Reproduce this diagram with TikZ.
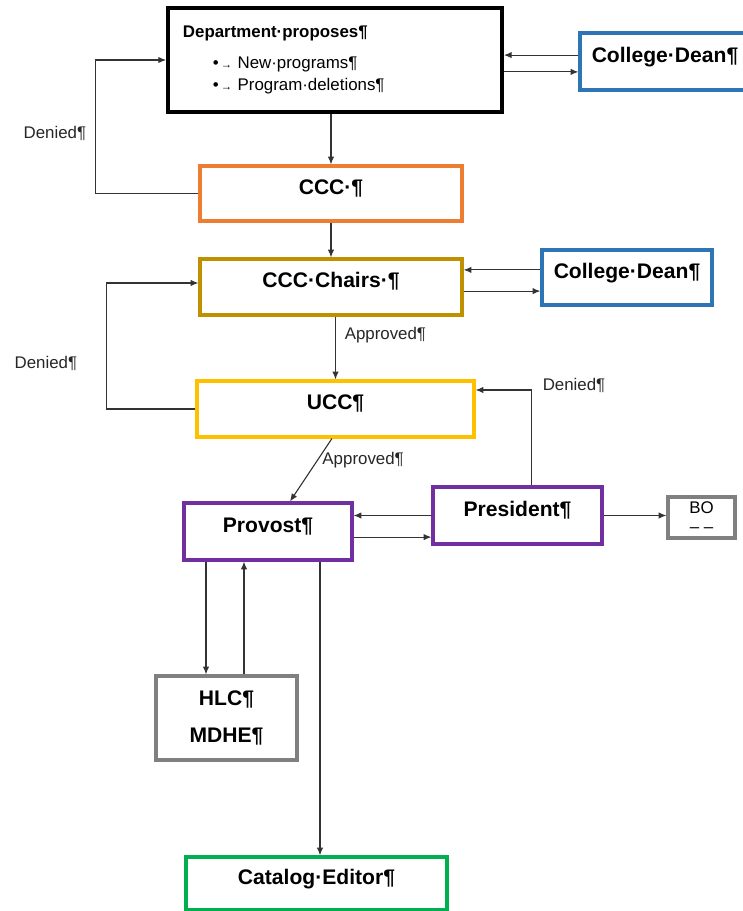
\documentclass[tikz,border=0pt]{standalone}
\usepackage{fontspec}
\setmainfont{Liberation Sans}
\usetikzlibrary{arrows.meta}

\definecolor{deanblue}{RGB}{46,117,182}
\definecolor{cccorange}{RGB}{237,125,49}
\definecolor{chairgold}{RGB}{191,144,0}
\definecolor{uccyellow}{RGB}{255,192,0}
\definecolor{officepurple}{RGB}{112,48,160}
\definecolor{boxgray}{RGB}{128,128,128}
\definecolor{editgreen}{RGB}{0,176,80}

\begin{document}
\begin{tikzpicture}[x=0.025cm, y=-0.025cm,
    box/.style={draw, line width=2.2pt, fill=white, font=\fontsize{15}{18}\selectfont\bfseries},
    tbox/.style={box, text height=11pt, text depth=10pt},
    arr/.style={-{Latex[length=5.5pt,width=4.5pt]}, line width=0.8pt, black!80},
    lbl/.style={font=\fontsize{12}{14}\selectfont, black!85}]
        \useasboundingbox (0,0) rectangle (742,911);

        % Department at the top, College Dean beside it
        \node[box, line width=2.6pt, minimum width=8.35cm, minimum height=2.6cm, text width=7.6cm,
              inner xsep=0.375cm, align=left, font=\fontsize{12}{15.6}\selectfont] (dept) at (335,60)
              {\textbf{Department·proposes¶}\\[7pt]
               \hspace*{0.75cm}•{\footnotesize\,→}\ New·programs¶\\
               \hspace*{0.75cm}•{\footnotesize\,→}\ Program·deletions¶};
        \node[tbox, draw=deanblue, minimum width=4.25cm, minimum height=1.425cm] (dean1) at (665,61.5) {College·Dean¶};

        % Committees
        \node[tbox, draw=cccorange, minimum width=6.55cm, minimum height=1.375cm] (ccc) at (331,193.5) {CCC·¶};
        \node[tbox, draw=chairgold, minimum width=6.55cm, minimum height=1.4cm] (chairs) at (331,287) {CCC·Chairs·¶};
        \node[tbox, draw=deanblue, minimum width=4.25cm, minimum height=1.375cm] (dean2) at (627,277.5) {College·Dean¶};
        \node[tbox, draw=uccyellow, minimum width=6.925cm, minimum height=1.4cm] (ucc) at (335.5,409) {UCC¶};

        % Provost and President
        \node[tbox, draw=officepurple, minimum width=4.2cm, minimum height=1.425cm] (provost) at (268,531.5) {Provost¶};
        \node[tbox, draw=officepurple, minimum width=4.225cm, minimum height=1.425cm] (president) at (517.5,515.5) {President¶};
        \node[box, draw=boxgray, minimum width=1.675cm, minimum height=1.025cm, align=center,
              font=\fontsize{12}{14.4}\selectfont] (bo) at (701.5,517.5) {BO\\[-1pt]– –};
        \node[box, draw=boxgray, minimum width=3.525cm, minimum height=2.1cm, align=center] (hlc) at (226.5,718) {HLC¶\\[9pt]MDHE¶};
        \node[tbox, draw=editgreen, minimum width=6.525cm, minimum height=1.325cm] (catalog) at (316.5,883.5) {Catalog·Editor¶};

        % Dept <-> College Dean
        \draw[arr] ([yshift=0.16cm]dean1.west) -- ([yshift=0.16cm]dean1.west -| dept.east);
        \draw[arr] ([yshift=-0.26cm]dean1.west -| dept.east) -- ([yshift=-0.26cm]dean1.west);

        % Down the chain
        \draw[arr] (ccc.north |- dept.south) -- (ccc.north);
        \draw[arr] (ccc.south) -- (chairs.north);
        \draw[arr] (ucc.north |- chairs.south) -- node[lbl, pos=0.3, right, xshift=0.1cm] {Approved¶} (ucc.north);
        \draw[arr] ([xshift=-0.09cm]ucc.south) -- node[lbl, pos=0.35, right] {Approved¶} ([xshift=0.55cm]provost.north);

        % Denied loops
        \draw[arr] (ccc.west) -- ++(-103,0) |- node[lbl, pos=0.225, left, xshift=-0.1cm] {Denied¶} (dept.west);
        \draw[arr] (ucc.west) -- ++(-89,0) |- node[lbl, pos=0.18, left, xshift=-0.6cm] {Denied¶} ([yshift=0.1cm]chairs.west);
        \draw[arr] ([xshift=0.34cm]president.north) |- node[lbl, pos=0.5, anchor=west, xshift=0.16cm, yshift=0.125cm] {Denied¶} ([yshift=0.475cm]ucc.east);

        % CCC Chairs <-> College Dean
        \draw[arr] ([yshift=0.19cm]dean2.west) -- ([yshift=0.19cm]dean2.west -| chairs.east);
        \draw[arr] ([yshift=-0.34cm]dean2.west -| chairs.east) -- ([yshift=-0.34cm]dean2.west);

        % Provost <-> President, President -> BO
        \draw[arr] (president.west) -- (president.west -| provost.east);
        \draw[arr] ([yshift=-0.14cm]provost.east) -- ([yshift=-0.14cm]provost.east -| president.west);
        \draw[arr] (president.east) -- (bo.west |- president.east);

        % Provost <-> HLC, Provost -> Catalog Editor
        \draw[arr] ([xshift=-1.55cm]provost.south) -- ([xshift=-1.55cm]provost.south |- hlc.north);
        \draw[arr] ([xshift=-0.6cm]provost.south |- hlc.north) -- ([xshift=-0.6cm]provost.south);
        \draw[arr] ([xshift=1.3cm]provost.south) -- ([xshift=1.3cm]provost.south |- catalog.north);

\end{tikzpicture}
\end{document}
